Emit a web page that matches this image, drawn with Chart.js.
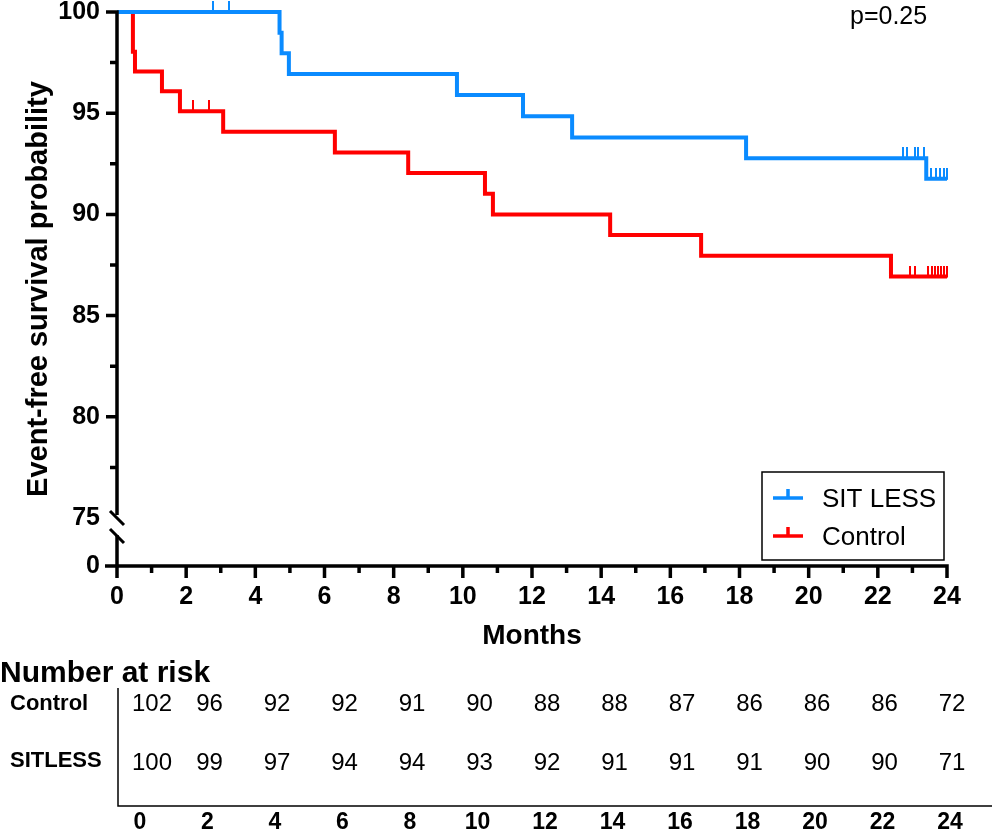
<!DOCTYPE html>
<html>
<head>
<meta charset="utf-8">
<script src="https://cdn.jsdelivr.net/npm/chart.js@4.4.1/dist/chart.umd.min.js"></script>
<style>
  html, body { margin: 0; padding: 0; background: #fff; }
</style>
</head>
<body>
<canvas id="kmChart" width="992" height="830"></canvas>
<script>
const FONT = "'Liberation Sans', Arial, Helvetica, sans-serif";
const BLUE = '#0a8bff';
const RED = '#ff0000';

// Kaplan-Meier steps: month of event, event-free survival (%) after it
const sitlessTimes = [0, 4.70, 4.76, 4.97, 9.83, 11.74, 13.16, 18.19, 23.40, 24];
const sitlessSurv  = [100, 98.98, 97.96, 96.94, 95.90, 94.85, 93.80, 92.77, 91.76, 91.76];
const sitlessCensored = [2.78, 3.24, 22.73, 22.85, 23.08, 23.16, 23.34, 23.54, 23.67, 23.80, 23.92, 24.0];

const controlTimes = [0, 0.46, 0.52, 1.30, 1.82, 3.07, 6.30, 8.42, 10.64, 10.87, 14.26, 16.89, 22.38, 24];
const controlSurv  = [100, 98.04, 97.06, 96.08, 95.10, 94.08, 93.06, 92.04, 91.02, 90.00, 88.98, 87.96, 86.93, 86.93];
const controlCensored = [2.20, 2.66, 22.93, 23.08, 23.45, 23.58, 23.66, 23.75, 23.84, 23.92, 24.0];

// number at risk
const riskMonths  = [0, 2, 4, 6, 8, 10, 12, 14, 16, 18, 20, 22, 24];
const controlRisk = [102, 96, 92, 92, 91, 90, 88, 88, 87, 86, 86, 86, 72];
const sitlessRisk = [100, 99, 97, 94, 94, 93, 92, 91, 91, 91, 90, 90, 71];

const xTickValues = [0, 2, 4, 6, 8, 10, 12, 14, 16, 18, 20, 22, 24];
const yTickValues = [75, 80, 85, 90, 95, 100];
const Y_FLOOR = 72.63; // bottom of the broken axis, labelled "0"

function survAt(times, surv, t) {
  let s = surv[0];
  for (let i = 0; i < times.length; i++) if (times[i] <= t) s = surv[i];
  return s;
}

// censor tick: small vertical bar rising above the point
function censorMark(color) {
  const c = document.createElement('canvas');
  c.width = 2; c.height = 22;
  const g = c.getContext('2d');
  g.fillStyle = color;
  g.fillRect(0, 0, 2, 12);
  return c;
}

const toXY = (times, surv) => times.map((t, i) => ({ x: t, y: surv[i] }));

const axesPlugin = {
  id: 'kmAxes',
  afterDatasetsDraw(chart) {
    const { ctx, chartArea, scales: { x, y } } = chart;
    const x0 = x.getPixelForValue(0);
    const xEnd = x.getPixelForValue(24);
    const yb = chartArea.bottom;
    const y75 = y.getPixelForValue(75);
    ctx.save();
    ctx.strokeStyle = '#000';
    ctx.lineWidth = 3.5;
    ctx.beginPath();
    ctx.moveTo(x0 - 12, yb); ctx.lineTo(xEnd + 1.75, yb);
    for (let m = 0; m <= 24; m++) {
      const px = x.getPixelForValue(m);
      ctx.moveTo(px, yb); ctx.lineTo(px, yb + (m % 2 === 0 ? 12 : 7));
    }
    ctx.moveTo(x0, y.getPixelForValue(100) - 1.75); ctx.lineTo(x0, y75 - 3);
    ctx.moveTo(x0, y75 + 17); ctx.lineTo(x0, yb);
    for (let v = 77.5; v <= 100; v += 2.5) {
      const py = y.getPixelForValue(v);
      ctx.moveTo(x0, py); ctx.lineTo(x0 - (v % 5 === 0 ? 11 : 7), py);
    }
    ctx.stroke();
    // axis break
    ctx.lineWidth = 3;
    ctx.beginPath();
    [y75, y75 + 18].forEach(yy => { ctx.moveTo(x0 - 7, yy - 7); ctx.lineTo(x0 + 7, yy + 7); });
    ctx.stroke();
    ctx.restore();
  }
};

const legendPlugin = {
  id: 'kmLegend',
  afterDraw(chart) {
    const { ctx, chartArea } = chart;
    const w = 182, h = 88;
    const bx = chartArea.right - 3 - w, by = chartArea.bottom - 6 - h;
    ctx.save();
    ctx.fillStyle = '#fff';
    ctx.fillRect(bx, by, w, h);
    ctx.strokeStyle = '#000';
    ctx.lineWidth = 1.5;
    ctx.strokeRect(bx, by, w, h);
    [0, 1].forEach(i => {
      const ds = chart.data.datasets[i];
      const cy = by + 26 + i * 38;
      ctx.strokeStyle = ds.borderColor;
      ctx.lineWidth = 3.5;
      ctx.beginPath();
      ctx.moveTo(bx + 11, cy); ctx.lineTo(bx + 41, cy);
      ctx.moveTo(bx + 26, cy); ctx.lineTo(bx + 26, cy - 9);
      ctx.stroke();
      ctx.fillStyle = '#000';
      ctx.font = '26px ' + FONT;
      ctx.textAlign = 'left';
      ctx.textBaseline = 'alphabetic';
      ctx.fillText(ds.label, bx + 60, cy + 9);
    });
    // p value
    ctx.font = '25px ' + FONT;
    ctx.fillText('p=0.25', 850, 24);
    ctx.restore();
  }
};

const riskTablePlugin = {
  id: 'riskTable',
  afterDraw(chart) {
    const { ctx } = chart;
    const colX = i => 140 + i * 67.5;
    const numX = i => (i === 0 ? 152 : colX(i) + 2);
    ctx.save();
    ctx.fillStyle = '#000';
    ctx.textBaseline = 'alphabetic';
    ctx.textAlign = 'left';
    ctx.font = 'bold 30px ' + FONT;
    ctx.fillText('Number at risk', 0, 682);
    ctx.font = 'bold 22px ' + FONT;
    ctx.fillText('Control', 10, 710);
    ctx.fillText('SITLESS', 10, 767);
    ctx.textAlign = 'center';
    ctx.font = '24px ' + FONT;
    riskMonths.forEach((m, i) => {
      ctx.fillText(String(controlRisk[i]), numX(i), 711);
      ctx.fillText(String(sitlessRisk[i]), numX(i), 770);
    });
    ctx.font = 'bold 23px ' + FONT;
    riskMonths.forEach((m, i) => ctx.fillText(String(m), colX(i), 829));
    ctx.strokeStyle = '#000';
    ctx.lineWidth = 1.5;
    ctx.beginPath();
    ctx.moveTo(118, 688); ctx.lineTo(118, 806); ctx.lineTo(992, 806);
    ctx.stroke();
    ctx.restore();
  }
};

const ctx = document.getElementById('kmChart').getContext('2d');

new Chart(ctx, {
  type: 'scatter',
  data: {
    datasets: [{
      label: 'SIT LESS',
      data: toXY(sitlessTimes, sitlessSurv),
      showLine: true,
      stepped: 'before',
      borderColor: BLUE,
      borderWidth: 4,
      pointRadius: 0,
      fill: false,
      clip: false
    }, {
      label: 'Control',
      data: toXY(controlTimes, controlSurv),
      showLine: true,
      stepped: 'before',
      borderColor: RED,
      borderWidth: 4,
      pointRadius: 0,
      fill: false,
      clip: false
    }, {
      label: 'SIT LESS censored',
      data: sitlessCensored.map(t => ({ x: t, y: survAt(sitlessTimes, sitlessSurv, t) })),
      showLine: false,
      pointStyle: censorMark(BLUE),
      pointRadius: 3,
      clip: false
    }, {
      label: 'Control censored',
      data: controlCensored.map(t => ({ x: t, y: survAt(controlTimes, controlSurv, t) })),
      showLine: false,
      pointStyle: censorMark(RED),
      pointRadius: 3,
      clip: false
    }]
  },
  options: {
    responsive: false,
    animation: false,
    events: [],
    layout: { padding: { top: 12, right: 45, bottom: 0, left: 0 } },
    plugins: {
      legend: { display: false },
      tooltip: { enabled: false }
    },
    scales: {
      x: {
        type: 'linear',
        min: 0,
        max: 24,
        afterBuildTicks: s => { s.ticks = xTickValues.map(v => ({ value: v })); },
        ticks: {
          color: '#000',
          font: { family: FONT, size: 25, weight: 'bold' },
          padding: 16,
          maxRotation: 0,
          autoSkip: false
        },
        grid: { display: false, drawTicks: false },
        border: { display: false },
        title: {
          display: true,
          text: 'Months',
          color: '#000',
          font: { family: FONT, size: 28, weight: 'bold' },
          padding: { top: 0, bottom: 177 }
        },
        afterFit: s => { s.height = 264; s.paddingLeft = 0; s.paddingRight = 0; }
      },
      y: {
        type: 'linear',
        min: Y_FLOOR,
        max: 100,
        afterBuildTicks: s => { s.ticks = [Y_FLOOR].concat(yTickValues).map(v => ({ value: v })); },
        ticks: {
          color: '#000',
          font: { family: FONT, size: 25, weight: 'bold' },
          padding: 17,
          autoSkip: false,
          callback: v => (v === Y_FLOOR ? '0' : String(v))
        },
        grid: { display: false, drawTicks: false },
        border: { display: false },
        title: {
          display: true,
          text: 'Event-free survival probability',
          color: '#000',
          font: { family: FONT, size: 29, weight: 'bold' },
          padding: { top: 22, bottom: 0 }
        },
        afterFit: s => { s.width = 117; s.paddingTop = 0; s.paddingBottom = 0; }
      }
    }
  },
  plugins: [axesPlugin, legendPlugin, riskTablePlugin]
});
</script>
</body>
</html>
